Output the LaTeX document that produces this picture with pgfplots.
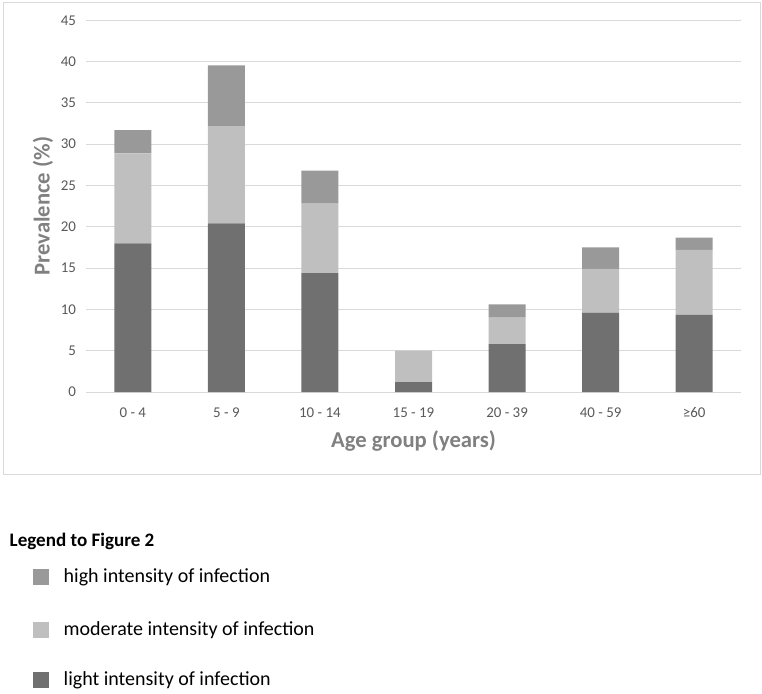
\documentclass[border=0pt]{standalone}
\usepackage{pgfplots}
\pgfplotsset{compat=1.18}
\usepackage{fontspec}
\setmainfont{Carlito}
\definecolor{lightc}{HTML}{707070}
\definecolor{modc}{HTML}{BFBFBF}
\definecolor{highc}{HTML}{999999}
\definecolor{tickc}{HTML}{595959}
\definecolor{titc}{HTML}{808080}
\definecolor{gridc}{HTML}{D9D9D9}
\begin{document}
\begin{tikzpicture}[x=0.75pt,y=0.75pt]
\path[use as bounding box] (0,0) rectangle (762,693);
\draw[gridc, line width=0.75pt] (3,690) rectangle (760,219);
\begin{axis}[
  at={(64.5pt,225.75pt)}, anchor=south west,
  scale only axis, width=491.25pt, height=278.8pt,
  ybar stacked, bar width=27.75pt,
  xmin=-0.5, xmax=6.5, ymin=0, ymax=45,
  ytick={0,5,...,45},
  xtick=data,
  xticklabels={0 - 4, 5 - 9, 10 - 14, 15 - 19, 20 - 39, 40 - 59, ≥60},
  axis x line*=bottom,
  axis y line*=left,
  x axis line style={draw=gridc, line width=0.75pt, -},
  y axis line style={draw=none},
  major tick length=0pt,
  ymajorgrids, grid style={gridc, line width=0.75pt},
  tick label style={font=\fontsize{11.2}{13}\selectfont, text=tickc},
  /pgf/number format/assume math mode=true,
  yticklabel style={xshift=-4pt},
  xticklabel style={yshift=-8pt},
  ylabel={\textbf{Prevalence (\%)}},
  xlabel={\textbf{Age group (years)}},
  label style={font=\fontsize{17}{20}\selectfont, text=titc},
  ylabel style={yshift=-1pt},
  xlabel style={yshift=-3pt},
  clip=false,
]
\addplot[fill=lightc, draw=none] coordinates {(0,18.0) (1,20.4) (2,14.4) (3,1.2) (4,5.8) (5,9.6) (6,9.35)};
\addplot[fill=modc, draw=none] coordinates {(0,10.9) (1,11.8) (2,8.4) (3,3.8) (4,3.2) (5,5.3) (6,7.85)};
\addplot[fill=highc, draw=none] coordinates {(0,2.8) (1,7.35) (2,4.0) (3,0) (4,1.6) (5,2.6) (6,1.5)};
\end{axis}
\node[anchor=west, font=\fontsize{14.3}{17}\selectfont\bfseries] at (5,152) {Legend to Figure 2};
\fill[highc] (33,108) rectangle (49,124);
\node[anchor=west, font=\fontsize{15}{18}\selectfont] at (59,116) {high intensity of infection};
\fill[modc] (33,55) rectangle (49,71);
\node[anchor=west, font=\fontsize{15}{18}\selectfont] at (59,63) {moderate intensity of infection};
\fill[lightc] (33,5) rectangle (49,21);
\node[anchor=west, font=\fontsize{15}{18}\selectfont] at (59,13) {light intensity of infection};
\end{tikzpicture}
\end{document}
